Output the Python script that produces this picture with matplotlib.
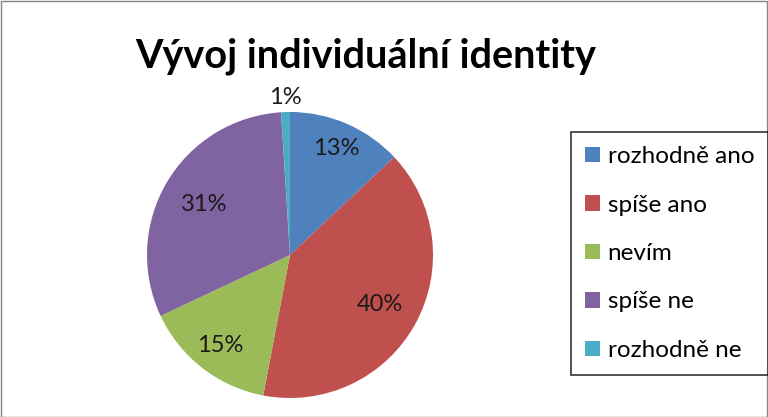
import matplotlib.pyplot as plt
from matplotlib.patches import Rectangle
import numpy as np

# categories and shares (%)
LABELS = ["rozhodně ano", "spíše ano", "nevím", "spíše ne", "rozhodně ne"]
VALUES = [13, 40, 15, 31, 1]
COLORS = ["#4F81BD", "#C0504D", "#9BBB59", "#8064A2", "#4BACC6"]
# Excel "best fit" label distance, as fraction of radius
LABEL_DIST = [0.81, 0.72, 0.80, 0.70, 1.10]

TITLE = "Vývoj individuální identity"


def main():
    plt.rcParams["font.family"] = ["Lato", "DejaVu Sans"]

    W, H = 768, 417
    fig = plt.figure(figsize=(W / 100, H / 100), dpi=100)

    # pie axes in pixel coordinates
    cx, cy, r = 290, 255, 143
    ax = fig.add_axes([(cx - r) / W, (H - cy - r) / H, 2 * r / W, 2 * r / H])
    wedges, texts, autotexts = ax.pie(
        VALUES, colors=COLORS, startangle=90, counterclock=False,
        autopct="%1.0f%%", radius=1.0,
        textprops=dict(fontsize=17, color="#1a1a1a"),
    )
    ax.set_xlim(-1, 1)
    ax.set_ylim(-1, 1)
    ax.set_aspect("equal")
    ax.axis("off")

    # move the percent labels to the reference positions
    for w, t, d in zip(wedges, autotexts, LABEL_DIST):
        ang = np.deg2rad((w.theta1 + w.theta2) / 2)
        t.set_position((d * np.cos(ang), d * np.sin(ang)))
        t.set_ha("center")
        t.set_va("center")

    fig.text(366 / W, 1 - 56 / H, TITLE, ha="center", va="center",
             fontsize=28.5, fontweight="bold")

    leg = fig.legend(
        wedges, LABELS, loc="upper left",
        bbox_to_anchor=(571 / W, 1 - 132 / H),
        fontsize=17.5, frameon=True, fancybox=False, edgecolor="black",
        handlelength=0.6, handleheight=0.6, handletextpad=0.33,
        labelspacing=1.13, borderpad=0.58, borderaxespad=0,
    )
    leg.get_frame().set_linewidth(1.2)

    # chart area border
    fig.patches.append(Rectangle((0.5 / W, 0.5 / H), 1 - 1.5 / W, 1 - 1.5 / H,
                                 transform=fig.transFigure, fill=False,
                                 edgecolor="#868686", linewidth=1))

    fig.savefig("out.png", dpi=100)


if __name__ == "__main__":
    main()
